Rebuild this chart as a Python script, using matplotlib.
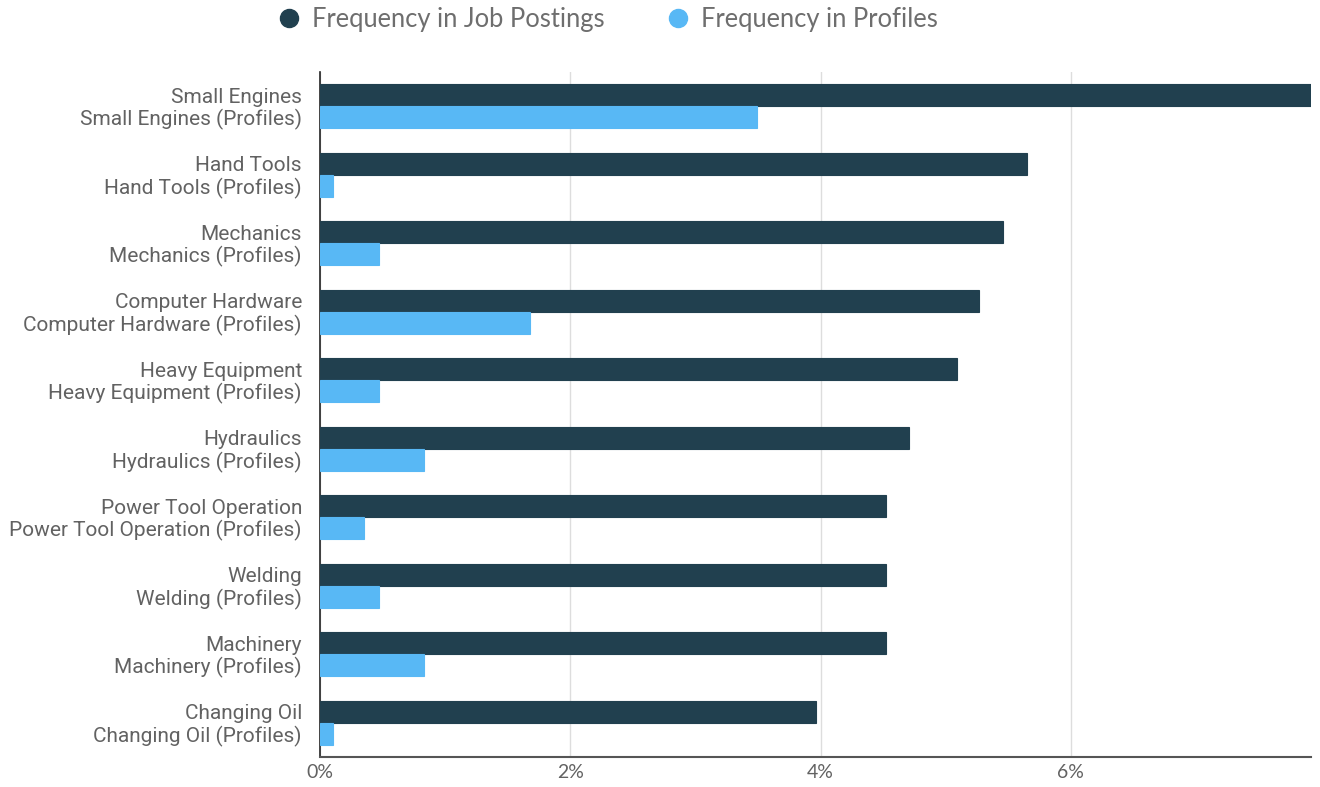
import matplotlib
matplotlib.use("Agg")
import matplotlib.pyplot as plt
from matplotlib.lines import Line2D
from matplotlib.ticker import FuncFormatter
import numpy as np

skills = ["Small Engines", "Hand Tools", "Mechanics", "Computer Hardware",
          "Heavy Equipment", "Hydraulics", "Power Tool Operation", "Welding",
          "Machinery", "Changing Oil"]
job_postings = [7.92, 5.65, 5.46, 5.27, 5.09, 4.71, 4.52, 4.52, 4.52, 3.96]
profiles = [3.49, 0.10, 0.47, 1.68, 0.47, 0.83, 0.35, 0.47, 0.83, 0.10]

dark = "#21404f"
light = "#58b8f5"
label_gray = "#626262"

fig = plt.figure(figsize=(13.2, 7.87), dpi=100)
ax = fig.add_axes([320 / 1320, 30 / 787, 991 / 1320, 685 / 787])

n = len(skills)
bar_h = 0.32
centers = np.arange(n)
y_job = centers - bar_h / 2
y_prof = centers + bar_h / 2

ax.barh(y_job, job_postings, height=bar_h, color=dark, edgecolor=dark,
        linewidth=0.8, zorder=3)
ax.barh(y_prof, profiles, height=bar_h, color=light, edgecolor=light,
        linewidth=0.8, zorder=3)

ax.set_ylim(n - 0.5, -0.5)
ax.set_xlim(0, 7.92)

# one tick label per bar: skill name, then its profile counterpart
ticks = np.empty(2 * n)
ticks[0::2] = y_job
ticks[1::2] = y_prof
labels = []
for s in skills:
    labels += [s, s + " (Profiles)"]
ax.set_yticks(ticks)
ax.set_yticklabels(labels, fontsize=15, color=label_gray, family="Roboto")
ax.tick_params(axis="y", length=0, pad=13)

ax.set_xticks([0, 2, 4, 6])
ax.xaxis.set_major_formatter(FuncFormatter(lambda v, p: f"{v:.0f}%"))
ax.tick_params(axis="x", length=0, pad=5, labelsize=14, labelcolor=label_gray)
for t in ax.get_xticklabels():
    t.set_family("Lato")

ax.grid(axis="x", color="#dddddd", linewidth=1, zorder=0)
for side in ("top", "right"):
    ax.spines[side].set_visible(False)
ax.spines["left"].set_color("#222222")
ax.spines["left"].set_linewidth(1.2)
ax.spines["bottom"].set_color("#555555")
ax.spines["bottom"].set_linewidth(1.5)

handles = [
    Line2D([], [], marker="o", linestyle="", markersize=13, color=dark),
    Line2D([], [], marker="o", linestyle="", markersize=13, color=light),
]
leg = fig.legend(handles, ["Frequency in Job Postings", "Frequency in Profiles"],
                 loc="center", bbox_to_anchor=(607 / 1320, 1 - 19 / 787),
                 ncol=2, frameon=False, handlelength=1.0, handletextpad=0.4,
                 columnspacing=2.4, prop={"family": "Lato", "size": 18.4})
for t in leg.get_texts():
    t.set_color("#6e6e6e")

fig.savefig("out.png", dpi=100, facecolor="white")
